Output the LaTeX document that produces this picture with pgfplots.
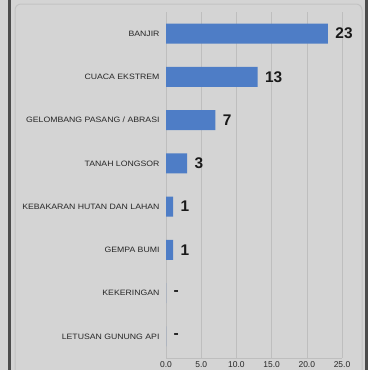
\documentclass[border=0pt]{standalone}
\usepackage{pgfplots}
\pgfplotsset{compat=1.18}
\usepackage{fontspec}
\setmainfont{Liberation Sans}
\newfontfamily\catfont[FakeStretch=1.12]{Liberation Sans}
\definecolor{bg}{RGB}{212,212,212}
\definecolor{barblue}{RGB}{78,125,198}
\definecolor{gridc}{RGB}{190,190,190}

\begin{document}
\begin{tikzpicture}
\clip (0,0) rectangle (368bp,-370bp);
\fill[bg] (0,0) rectangle (368bp,-370bp);
\draw[gray!20!bg, line width=1bp, rounded corners=6bp] (15bp,-4bp) rectangle (362bp,-380bp);
\fill[black!70] (8bp,0) rectangle (10.5bp,-370bp);
\fill[black!70] (365bp,0) rectangle (368bp,-370bp);
\begin{axis}[
    at={(166bp,-12bp)}, anchor=north west,
    scale only axis, width=176bp, height=346bp,
    xbar, bar width=20bp,
    xmin=0, xmax=25,
    ymin=-0.5, ymax=7.5, y dir=reverse,
    xtick={0,5,10,15,20,25},
    ytick={0,1,2,3,4,5,6,7},
    yticklabels={BANJIR, CUACA EKSTREM, GELOMBANG PASANG / ABRASI, TANAH LONGSOR, KEBAKARAN HUTAN DAN LAHAN, GEMPA BUMI, KEKERINGAN, LETUSAN GUNUNG API},
    xticklabel={\pgfmathprintnumber[fixed,fixed zerofill,precision=1]{\tick}},
    xticklabel style={font=\fontsize{8.5}{8.5}\selectfont, text=black!85, yshift=-0.5bp},
    yticklabel style={font=\catfont\fontsize{7.8}{8}\selectfont, text=black!85, xshift=-3bp},
    /pgf/number format/assume math mode=true,
    major tick length=0pt,
    xmajorgrids, grid style={gridc, line width=0.6bp},
    axis x line*=bottom, axis y line*=left,
    axis line style={gridc, line width=0.8bp},
    point meta=explicit symbolic,
    nodes near coords,
    nodes near coords style={anchor=west, xshift=4bp, font=\bfseries\fontsize{15.5}{15.5}\selectfont, text=black!90},
]
\addplot[fill=barblue, draw=none] coordinates {
    (23,0) [23]
    (13,1) [13]
    (7,2) [7]
    (3,3) [3]
    (1,4) [1]
    (1,5) [1]
    (0,6) [-]
    (0,7) [-]
};
\end{axis}
\end{tikzpicture}
\end{document}
